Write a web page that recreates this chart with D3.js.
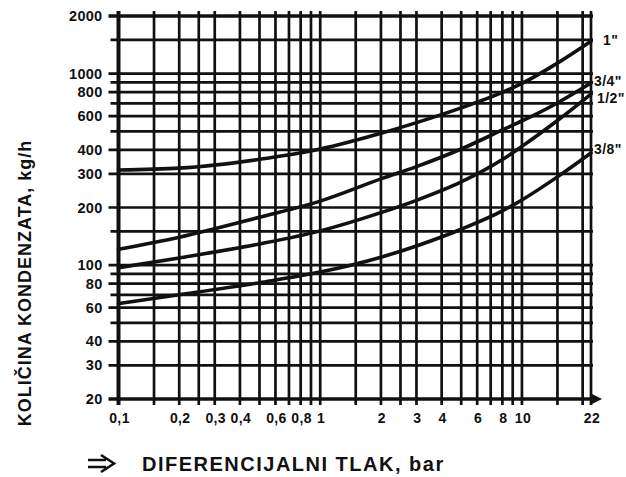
<!DOCTYPE html><html><head><meta charset="utf-8">
<script src="https://cdn.jsdelivr.net/npm/d3@7"></script>
<style>body{margin:0;background:#fff}</style></head>
<body><svg id="chart"></svg>
<script>

// grid values (log-log chart)
var xGrid = [0.1,0.15,0.2,0.25,0.3,0.4,0.5,0.6,0.7,0.8,0.9,1,1.5,2,2.5,3,4,5,6,7,8,9,10,15,20,22];
var xTicks = [0.1,0.2,0.3,0.4,0.6,0.8,1,2,3,4,6,8,10,22];
var xTickLabels = ["0,1","0,2","0,3","0,4","0,6","0,8","1","2","3","4","6","8","10","22"];
var yGrid = [20,30,40,50,60,70,80,90,100,150,200,300,400,500,600,700,800,900,1000,1500,2000];
var yTicks = [20,30,40,60,80,100,200,300,400,600,800,1000,2000];

// curves
var pressure = [0.1,0.2,0.5,1,2,3,5,8,10,15,22];
var flow1  = [314,321,357,404,488,555,663,798,889,1135,1476];
var flow34 = [121,140,178,216,282,327,404,508,566,703,893];
var flow12 = [97,109,129,151,188,218,272,356,417,569,782];
var flow38 = [63,70,81,92,110,126,154,192,219,289,385];
var sizes = ['1"', '3/4"', '1/2"', '3/8"'];
var flows = [flow1, flow34, flow12, flow38];

var W = 626, H = 477;
var pLeft = 118.5, pRight = 591, pTop = 16, pBottom = 399;

var svg = d3.select("#chart")
    .attr("width", W).attr("height", H);

svg.append("rect").attr("width", W).attr("height", H).attr("fill", "#fff");

var x = d3.scaleLog().domain([0.1, 22]).range([pLeft, pRight]);
var y = d3.scaleLog().domain([20, 2000]).range([pBottom, pTop]);

var ink = "#111";
var font = "'Liberation Sans', Arial, sans-serif";

// vertical grid
svg.selectAll(".vgrid")
    .data(xGrid)
  .enter().append("line")
    .attr("class", "vgrid")
    .attr("x1", function(d) { return x(d); })
    .attr("x2", function(d) { return x(d); })
    .attr("y1", pTop - 5)
    .attr("y2", pBottom + 6)
    .attr("stroke", ink)
    .attr("stroke-width", function(d) { return d == 0.1 ? 4 : 2.7; });

// horizontal grid
svg.selectAll(".hgrid")
    .data(yGrid)
  .enter().append("line")
    .attr("class", "hgrid")
    .attr("x1", function(d) { return yTicks.indexOf(d) >= 0 ? pLeft - 10 : pLeft - 8; })
    .attr("x2", pRight + 2)
    .attr("y1", function(d) { return y(d); })
    .attr("y2", function(d) { return y(d); })
    .attr("stroke", ink)
    .attr("stroke-width", function(d) { return (d == 20 || d == 2000) ? 3.4 : 2.7; });

// arrow at end of x axis
svg.append("path")
    .attr("d", "M" + (pRight + 1) + "," + (pBottom - 5) + "L" + (pRight + 11) + "," + pBottom + "L" + (pRight + 1) + "," + (pBottom + 5) + "Z")
    .attr("fill", ink);

// y tick labels
svg.selectAll(".ylab")
    .data(yTicks)
  .enter().append("text")
    .attr("class", "ylab")
    .attr("x", pLeft - 16)
    .attr("y", function(d) { return y(d) + 5; })
    .attr("text-anchor", "end")
    .style("font-family", font)
    .style("font-weight", "bold")
    .style("font-size", "14.5px")
    .style("letter-spacing", "0.3px")
    .attr("fill", ink)
    .text(function(d) { return d; });

// x tick labels
svg.selectAll(".xlab")
    .data(xTicks)
  .enter().append("text")
    .attr("class", "xlab")
    .attr("x", function(d) { return x(d) + 1; })
    .attr("y", pBottom + 24)
    .attr("text-anchor", "middle")
    .style("font-family", font)
    .style("font-weight", "bold")
    .style("font-size", "14px")
    .style("letter-spacing", "0.4px")
    .attr("fill", ink)
    .text(function(d, i) { return xTickLabels[i]; });

// curves
var line = d3.line()
    .x(function(d) { return x(d[0]); })
    .y(function(d) { return y(d[1]); })
    .curve(d3.curveMonotoneX);

svg.selectAll(".curve")
    .data(flows)
  .enter().append("path")
    .attr("class", "curve")
    .attr("d", function(f) { return line(pressure.map(function(p, i) { return [p, f[i]]; })); })
    .attr("fill", "none")
    .attr("stroke", ink)
    .attr("stroke-width", 3.6)
    .attr("stroke-linecap", "round");

// size labels at the right end
var labDx = [12, 3, 6, 3], labDy = [4, 3, 9, 1];
svg.selectAll(".size")
    .data(sizes)
  .enter().append("text")
    .attr("class", "size")
    .attr("x", function(d, i) { return pRight + labDx[i]; })
    .attr("y", function(d, i) { return y(flows[i][flows[i].length - 1]) + labDy[i]; })
    .style("font-family", font)
    .style("font-weight", "bold")
    .style("font-size", "14px")
    .style("letter-spacing", "0.4px")
    .attr("fill", ink)
    .text(function(d) { return d; });

// axis titles
svg.append("text")
    .attr("transform", "translate(31,283) rotate(-90)")
    .attr("text-anchor", "middle")
    .style("font-family", font)
    .style("font-weight", "bold")
    .style("font-size", "18px")
    .style("letter-spacing", "1px")
    .attr("fill", ink)
    .text("KOLIČINA KONDENZATA, kg/h");

svg.append("path")
    .attr("d", "M88,460H106M88,467H106M101,455L114,463.5L101,472")
    .attr("fill", "none")
    .attr("stroke", ink)
    .attr("stroke-width", 2.6);

svg.append("text")
    .attr("x", 142)
    .attr("y", 471)
    .style("font-family", font)
    .style("font-weight", "bold")
    .style("font-size", "20px")
    .style("letter-spacing", "1.5px")
    .attr("fill", ink)
    .text("DIFERENCIJALNI TLAK, bar");

</script>
</body></html>
